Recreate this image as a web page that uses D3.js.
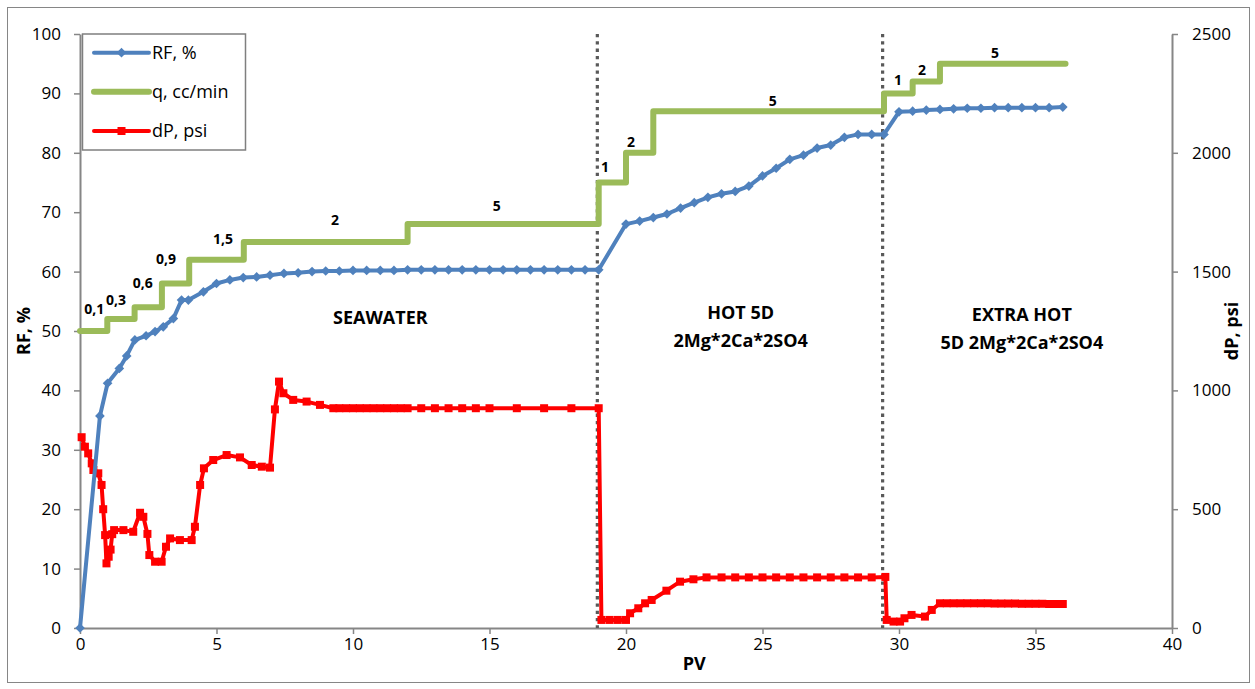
<!DOCTYPE html>
<html>
<head>
<meta charset="utf-8">
<script src="https://cdn.jsdelivr.net/npm/d3@7/dist/d3.min.js"></script>
<style>
  html, body { margin: 0; padding: 0; background: #fff; }
  svg { display: block; font-family: "Open Sans", Lato, "Liberation Sans", sans-serif; }
</style>
</head>
<body>
<svg id="chart" width="1255" height="689"></svg>
<script>
// ---- Recovery factor (left axis) ----
const rfPV = [0, 0.73, 1.01, 1.44, 1.71, 2.01, 2.42, 2.75, 3.05, 3.42, 3.72, 3.97, 4.52, 5.0, 5.49, 5.98, 6.47, 6.96, 7.47, 7.99,
  8.5, 9, 9.5, 10, 10.5, 11, 11.5, 12, 12.5, 13, 13.5, 14, 14.5, 15, 15.5, 16, 16.5, 17, 17.5, 18, 18.5, 19,
  20, 20.5, 21, 21.5, 22, 22.5, 23, 23.5, 24, 24.5, 25, 25.5, 26, 26.5, 27, 27.5, 28, 28.5, 29, 29.45,
  30, 30.5, 31, 31.5, 32, 32.5, 33, 33.5, 34, 34.5, 35, 35.5, 36];
const rfValues = [0, 35.7, 41.2, 43.7, 45.8, 48.5, 49.2, 49.9, 50.7, 52.1, 55.2, 55.2, 56.6, 58.0, 58.6, 59.0, 59.1, 59.4, 59.7, 59.8,
  60.0, 60.1, 60.1, 60.2, 60.2, 60.2, 60.2, 60.3, 60.3, 60.3, 60.3, 60.3, 60.3, 60.3, 60.3, 60.3, 60.3, 60.3, 60.3, 60.3, 60.3, 60.3,
  68.0, 68.5, 69.1, 69.7, 70.7, 71.6, 72.5, 73.1, 73.5, 74.4, 76.1, 77.4, 78.9, 79.6, 80.8, 81.3, 82.6, 83.1, 83.1, 83.1,
  86.9, 87.0, 87.2, 87.3, 87.4, 87.5, 87.5, 87.6, 87.6, 87.6, 87.6, 87.6, 87.7];

// ---- Injection rate steps, drawn on the left axis scale ----
const qBreaksPV = [0, 1, 2, 3, 4, 6, 12, 19, 20, 21, 29.45, 30.5, 31.5, 36.1];
const qLevels = [50, 52, 54, 58, 62, 65, 68, 75, 80, 87, 90, 92, 95];
const qRates = ["0,1", "0,3", "0,6", "0,9", "1,5", "2", "5", "1", "2", "5", "1", "2", "5"];
const qLabelPV = [0.52, 1.32, 2.3, 3.15, 5.24, 9.34, 15.27, 19.23, 20.18, 25.38, 29.96, 30.84, 33.52];
const qLabelRF = [53.7, 55.2, 58.1, 62.1, 65.5, 68.7, 71.0, 77.6, 81.8, 88.7, 92.3, 94.0, 96.8];

// ---- Differential pressure (right axis) ----
const dpPV = [0.06, 0.18, 0.30, 0.43, 0.49, 0.67, 0.79, 0.85, 0.92, 0.97, 1.05, 1.12, 1.18, 1.25, 1.59, 1.95,
  2.20, 2.32, 2.47, 2.54, 2.75, 2.99, 3.15, 3.30, 3.66, 4.09, 4.21, 4.40, 4.54, 4.88, 5.37, 5.86, 6.29, 6.66, 6.96,
  7.14, 7.29, 7.45, 7.81, 8.30, 8.79, 9.28,
  9.5, 9.75, 10, 10.25, 10.5, 10.75, 11, 11.25, 11.5, 11.75, 12, 12.5, 13, 13.5, 14, 14.5, 15, 16, 17, 18, 19.0,
  19.1, 19.4, 19.7, 20.0, 20.15, 20.45, 20.7, 20.94, 21.48, 21.98, 22.47, 22.95,
  23.5, 24, 24.5, 25, 25.5, 26, 26.5, 27, 27.5, 28, 28.5, 29, 29.5,
  29.55, 29.8, 30.04, 30.2, 30.46, 30.95, 31.2, 31.5,
  31.75, 32, 32.25, 32.5, 32.75, 33, 33.25, 33.5, 33.75, 34, 34.25, 34.5, 34.75, 35, 35.25, 35.5, 35.75, 36];
const dpValues = [803, 763, 735, 693, 665, 651, 602, 500, 391, 272, 300, 330, 395, 412, 412, 405,
  485, 468, 396, 307, 279, 279, 342, 377, 370, 370, 426, 602, 672, 707, 728, 718, 686, 679, 675,
  920, 1037, 988, 960, 953, 939, 925,
  925, 925, 925, 925, 925, 925, 925, 925, 925, 925, 925, 925, 925, 925, 925, 925, 925, 925, 925, 925, 925,
  34, 34, 34, 34, 62, 83, 104, 118, 157, 195, 205, 213,
  213, 213, 213, 213, 213, 213, 213, 213, 213, 213, 213, 213, 215,
  34, 27, 27, 41, 55, 48, 76, 104,
  104, 104, 104, 104, 104, 104, 104, 103, 103, 103, 103, 102, 102, 102, 102, 101, 101, 101];

// ---- Brine switch markers and zone titles ----
const switchPV = [18.95, 29.4];
const zoneTitles = [
  { pv: 11.0, rf: 52.2, lines: ["SEAWATER"] },
  { pv: 24.2, rf: 53.0, lines: ["HOT 5D", "2Mg*2Ca*2SO4"] },
  { pv: 34.5, rf: 52.8, lines: ["EXTRA HOT", "5D 2Mg*2Ca*2SO4"] }
];

const xTicks = [0, 5, 10, 15, 20, 25, 30, 35, 40];
const yLeftTicks = [0, 10, 20, 30, 40, 50, 60, 70, 80, 90, 100];
const yRightTicks = [0, 500, 1000, 1500, 2000, 2500];

const seriesNames = ["RF, %", "q, cc/min", "dP, psi"];
const colors = { rf: "#4F81BD", q: "#9BBB59", dp: "#FF0000", axis: "#868686", grid: "#595959" };

const svg = d3.select("#chart");
const plot = { left: 80, right: 1172, top: 34, bottom: 628 };

const x = d3.scaleLinear().domain([0, 40]).range([plot.left, plot.right]);
const yL = d3.scaleLinear().domain([0, 100]).range([plot.bottom, plot.top]);
const yR = d3.scaleLinear().domain([0, 2500]).range([plot.bottom, plot.top]);

// outer frame
svg.append("rect").attr("x", 7.5).attr("y", 7.5).attr("width", 1242).attr("height", 675)
  .attr("fill", "#fff").attr("stroke", "#868686").attr("stroke-width", 1);

// axes
function styleAxis(g) {
  g.selectAll(".domain").attr("stroke", colors.axis).attr("stroke-width", 2);
  g.selectAll(".tick line").attr("stroke", colors.axis).attr("stroke-width", 1.5);
  g.selectAll(".tick text").attr("fill", "#000").style("font-size", "17px")
    .style("font-family", "'Open Sans', sans-serif");
}
svg.append("g").attr("transform", `translate(0,${plot.bottom})`)
  .call(d3.axisBottom(x).tickValues(xTicks).tickSize(6).tickPadding(4).tickSizeOuter(0))
  .call(styleAxis);
svg.append("g").attr("transform", `translate(${plot.left},0)`)
  .call(d3.axisLeft(yL).tickValues(yLeftTicks).tickSize(6).tickPadding(13).tickSizeOuter(0))
  .call(styleAxis);
svg.append("g").attr("transform", `translate(${plot.right},0)`)
  .call(d3.axisRight(yR).tickValues(yRightTicks).tickFormat(d3.format("d")).tickSize(6).tickPadding(14).tickSizeOuter(0))
  .call(styleAxis);

// axis titles
svg.append("text").attr("transform", `translate(30,${(plot.top + plot.bottom) / 2}) rotate(-90)`)
  .attr("text-anchor", "middle").attr("font-weight", "bold").style("font-size", "18px").text("RF, %");
svg.append("text").attr("transform", `translate(1238,${(plot.top + plot.bottom) / 2}) rotate(-90)`)
  .attr("text-anchor", "middle").attr("font-weight", "bold").style("font-size", "18px").text("dP, psi");
svg.append("text").attr("x", x(22.5)).attr("y", 670)
  .attr("text-anchor", "middle").attr("font-weight", "bold").style("font-size", "18px").text("PV");

// dotted switch lines
svg.append("g").selectAll("line").data(switchPV).join("line")
  .attr("x1", d => x(d)).attr("x2", d => x(d))
  .attr("y1", plot.top).attr("y2", plot.bottom)
  .attr("stroke", colors.grid).attr("stroke-width", 3.2).attr("stroke-dasharray", "3.3,4");

// q steps
const qPts = [];
qLevels.forEach((lv, i) => { qPts.push([qBreaksPV[i], lv]); qPts.push([qBreaksPV[i + 1], lv]); });
svg.append("path").datum(qPts)
  .attr("d", d3.line().x(d => x(d[0])).y(d => yL(d[1])))
  .attr("fill", "none").attr("stroke", colors.q).attr("stroke-width", 6)
  .attr("stroke-linejoin", "round").attr("stroke-linecap", "round");

// q labels
svg.append("g").selectAll("text").data(qRates).join("text")
  .attr("x", (d, i) => x(qLabelPV[i])).attr("y", (d, i) => yL(qLabelRF[i]))
  .attr("dy", "0.35em").attr("text-anchor", "middle").attr("font-weight", "bold")
  .style("font-size", "14px").text(d => d);

// dP line + squares
const dpData = dpPV.map((p, i) => [p, dpValues[i]]);
svg.append("path").datum(dpData)
  .attr("d", d3.line().x(d => x(d[0])).y(d => yR(d[1])))
  .attr("fill", "none").attr("stroke", colors.dp).attr("stroke-width", 4).attr("stroke-linejoin", "round");
svg.append("g").selectAll("rect").data(dpData).join("rect")
  .attr("x", d => x(d[0]) - 4).attr("y", d => yR(d[1]) - 4)
  .attr("width", 8).attr("height", 8).attr("fill", colors.dp);

// RF line + diamonds
const rfData = rfPV.map((p, i) => [p, rfValues[i]]);
svg.append("path").datum(rfData)
  .attr("d", d3.line().x(d => x(d[0])).y(d => yL(d[1])))
  .attr("fill", "none").attr("stroke", colors.rf).attr("stroke-width", 4).attr("stroke-linejoin", "round");
const diamond = d3.symbol().type(d3.symbolDiamond2).size(60);
svg.append("g").selectAll("path").data(rfData).join("path")
  .attr("transform", d => `translate(${x(d[0])},${yL(d[1])})`)
  .attr("d", diamond).attr("fill", colors.rf);

// zone titles
zoneTitles.forEach(z => {
  const t = svg.append("text").attr("text-anchor", "middle").attr("font-weight", "bold")
    .style("font-size", "18px");
  z.lines.forEach((ln, k) => {
    t.append("tspan").attr("x", x(z.pv)).attr("y", yL(z.rf) + k * 28).attr("dy", "0.35em").text(ln);
  });
});

// legend
const lg = svg.append("g");
lg.append("rect").attr("x", 82.5).attr("y", 34).attr("width", 163).attr("height", 116)
  .attr("fill", "#fff").attr("stroke", "#7f7f7f").attr("stroke-width", 1.5);
const legendY = [52.7, 91.7, 131];
const legendColors = [colors.rf, colors.q, colors.dp];
seriesNames.forEach((nm, i) => {
  const yy = legendY[i];
  lg.append("line").attr("x1", 94).attr("x2", 149).attr("y1", yy).attr("y2", yy)
    .attr("stroke", legendColors[i]).attr("stroke-width", i === 1 ? 6 : 4).attr("stroke-linecap", "round");
  if (i === 0) lg.append("path").attr("transform", `translate(121.5,${yy})`).attr("d", diamond).attr("fill", colors.rf);
  if (i === 2) lg.append("rect").attr("x", 117.5).attr("y", yy - 4).attr("width", 8).attr("height", 8).attr("fill", colors.dp);
  lg.append("text").attr("x", 152).attr("y", yy).attr("dy", "0.35em").style("font-size", "18px").text(nm);
});
</script>
</body>
</html>
